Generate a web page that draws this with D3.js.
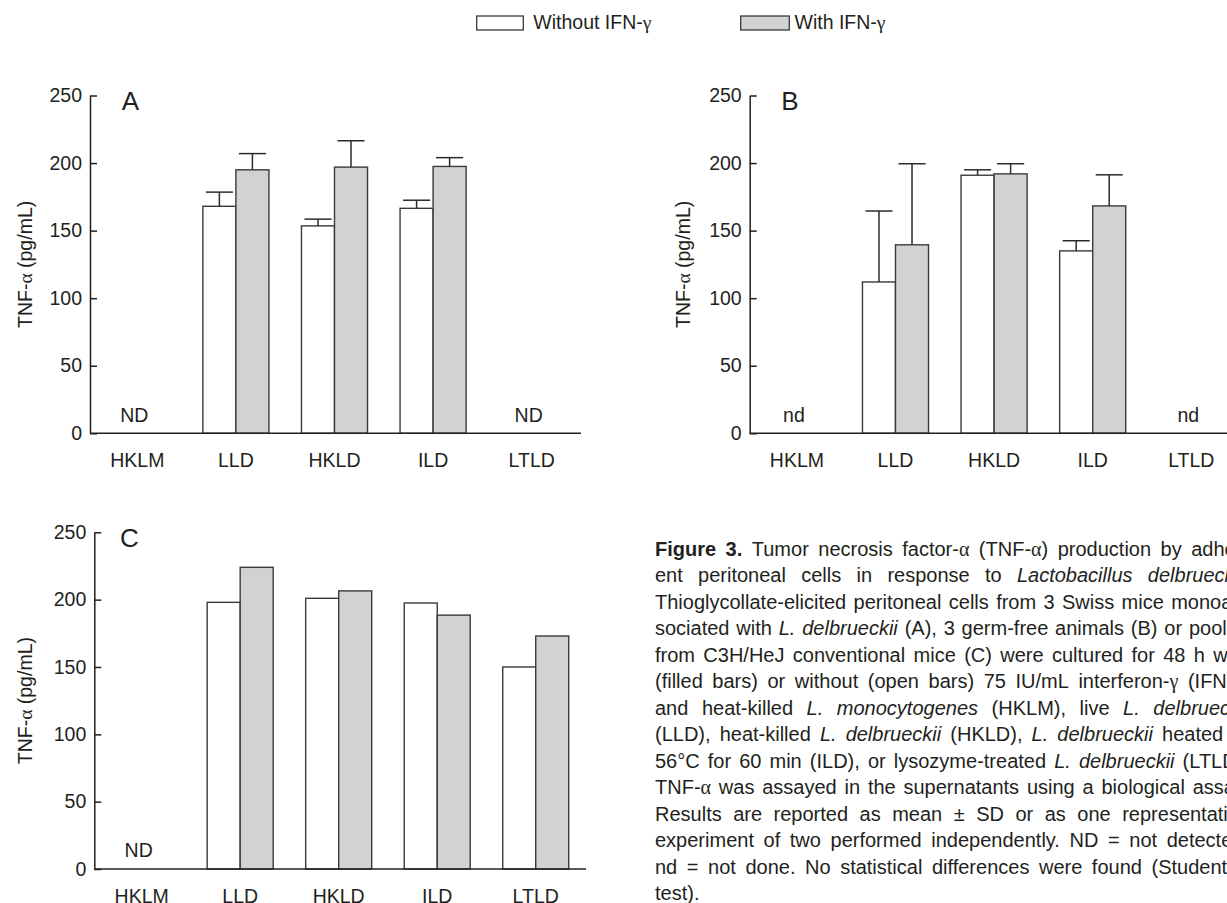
<!DOCTYPE html>
<html><head><meta charset="utf-8">
<script src="https://cdn.jsdelivr.net/npm/d3@7"></script>
<style>
html,body{margin:0;padding:0;background:#fff;overflow:hidden;width:1227px;height:903px;position:relative;}
svg{position:absolute;left:0;top:0;}
text{font-family:"Liberation Sans",Arial,sans-serif;font-size:19.5px;fill:#231f20;}
.letter{font-size:26px;}
.serif{font-family:"Liberation Serif","Times New Roman",serif;}
#caption{position:absolute;left:655px;top:535.7px;width:594px;font:20px/26.5px "Liberation Sans",Arial,sans-serif;color:#231f20;}
#caption .ln{display:flex;justify-content:space-between;height:26.5px;white-space:nowrap;}
#caption .ln.last{justify-content:flex-start;}
#caption .ln span{flex-shrink:0;white-space:nowrap;}
#caption var{font-style:normal;font-family:"Liberation Serif","Times New Roman",serif;}
</style>
</head><body>
<div id="caption"></div>
<script>
// ---------------- data ----------------
const categories = ["HKLM", "LLD", "HKLD", "ILD", "LTLD"];
const seriesKeys = ["without", "with"];
const legendLabels = ["Without IFN-", "With IFN-"];
const yTicks = [0, 50, 100, 150, 200, 250];
const yTitle = "TNF-";

const aWithout   = [null, 168, 153.5, 166.5, null];
const aWithoutSD = [null, 10.5, 5, 6, null];
const aWith      = [null, 195, 197, 197.5, null];
const aWithSD    = [null, 12, 19.5, 6.5, null];
const aNotes     = ["ND", null, null, null, "ND"];

const bWithout   = [null, 112, 191, 135, null];
const bWithoutSD = [null, 52.5, 4, 7.5, null];
const bWith      = [null, 139.5, 192, 168.3, null];
const bWithSD    = [null, 60, 7.5, 23, null];
const bNotes     = ["nd", null, null, null, "nd"];

const cWithout   = [null, 198, 201, 197.5, 150];
const cWith      = [null, 224, 206.5, 188.5, 173];
const cNotes     = ["ND", null, null, null, null];

const captionLines = [
  "<b>Figure</b> <b>3.</b> Tumor necrosis factor-<var>α</var> (TNF-<var>α</var>) production by adher-",
  "ent peritoneal cells in response to <i>Lactobacillus</i> <i>delbrueckii.</i>",
  "Thioglycollate-elicited peritoneal cells from 3 Swiss mice monoas-",
  "sociated with <i>L.</i> <i>delbrueckii</i> (A), 3 germ-free animals (B) or pooled",
  "from C3H/HeJ conventional mice (C) were cultured for 48 h with",
  "(filled bars) or without (open bars) 75 IU/mL interferon-<var>γ</var> (IFN-<var>γ</var>)",
  "and heat-killed <i>L.</i> <i>monocytogenes</i> (HKLM), live <i>L.</i> <i>delbrueckii</i>",
  "(LLD), heat-killed <i>L.</i> <i>delbrueckii</i> (HKLD), <i>L.</i> <i>delbrueckii</i> heated at",
  "56°C for 60 min (ILD), or lysozyme-treated <i>L.</i> <i>delbrueckii</i> (LTLD).",
  "TNF-<var>α</var> was assayed in the supernatants using a biological assay.",
  "Results are reported as mean ± SD or as one representative",
  "experiment of two performed independently. ND = not detected;",
  "nd = not done. No statistical differences were found (Student <i>t</i>-",
  "test)."
];

// ---------------- layout ----------------
const W = 1227, H = 903;
const INK = "#231f20", BARSTROKE = "#3a3a3a", GRAY = "#d1d2d4";
const svg = d3.select("body").append("svg").attr("width", W).attr("height", H);

const panels = [
  {letter: "A", vals: [aWithout, aWith], sds: [aWithoutSD, aWithSD], notes: aNotes,
   axisX: 90, r0: 88, r1: 581, xEnd: 581, yTop: 95.5, yBot: 433.3, letterX: 130.5, letterY: 110, titleX: 25},
  {letter: "B", vals: [bWithout, bWith], sds: [bWithoutSD, bWithSD], notes: bNotes,
   axisX: 749.7, r0: 747.6, r1: 1240.6, xEnd: 1240, yTop: 95.5, yBot: 433.3, letterX: 790, letterY: 110, titleX: 683},
  {letter: "C", vals: [cWithout, cWith], sds: null, notes: cNotes,
   axisX: 94.3, r0: 92.4, r1: 585, xEnd: 586, yTop: 532.3, yBot: 869, letterX: 129.5, letterY: 546.7, titleX: 25}
];

panels.forEach(p => {
  const g = svg.append("g");
  const x = d3.scaleBand().domain(categories).range([p.r0, p.r1]).paddingInner(0.33).paddingOuter(0.165);
  const xs = d3.scaleBand().domain(seriesKeys).range([0, x.bandwidth()]);
  const y = d3.scaleLinear().domain([0, 250]).range([p.yBot, p.yTop]);

  // bars
  seriesKeys.forEach((k, si) => {
    const vals = p.vals[si];
    g.append("g").selectAll("rect")
      .data(categories.map((c, i) => ({c, v: vals[i]})).filter(d => d.v != null))
      .join("rect")
      .attr("x", d => x(d.c) + xs(k))
      .attr("y", d => y(d.v))
      .attr("width", xs.bandwidth())
      .attr("height", d => y(0) - y(d.v))
      .attr("fill", si === 0 ? "#fff" : GRAY)
      .attr("stroke", BARSTROKE).attr("stroke-width", 1.4);
  });

  // error bars
  if (p.sds) {
    seriesKeys.forEach((k, si) => {
      const vals = p.vals[si], sds = p.sds[si];
      const data = categories.map((c, i) => ({c, v: vals[i], sd: sds[i]})).filter(d => d.v != null && d.sd != null);
      const cw = xs.bandwidth() * 0.82;
      const eg = g.append("g").attr("stroke", "#2b2b2b").attr("stroke-width", 1.5);
      eg.selectAll("line.v").data(data).join("line").attr("class", "v")
        .attr("x1", d => x(d.c) + xs(k) + xs.bandwidth() / 2)
        .attr("x2", d => x(d.c) + xs(k) + xs.bandwidth() / 2)
        .attr("y1", d => y(d.v)).attr("y2", d => y(d.v + d.sd));
      eg.selectAll("line.h").data(data).join("line").attr("class", "h")
        .attr("x1", d => x(d.c) + xs(k) + xs.bandwidth() / 2 - cw / 2)
        .attr("x2", d => x(d.c) + xs(k) + xs.bandwidth() / 2 + cw / 2)
        .attr("y1", d => y(d.v + d.sd)).attr("y2", d => y(d.v + d.sd));
    });
  }

  // notes (ND / nd)
  g.append("g").selectAll("text")
    .data(categories.map((c, i) => ({c, t: p.notes[i]})).filter(d => d.t))
    .join("text")
    .attr("x", d => x(d.c) + x.bandwidth() / 2 - 3)
    .attr("y", y(0) - 11.6)
    .attr("text-anchor", "middle")
    .text(d => d.t);

  // y axis
  const ya = g.append("g").attr("transform", `translate(${p.axisX},0)`)
    .call(d3.axisLeft(y).tickValues(yTicks).tickSizeInner(-7).tickSizeOuter(0).tickPadding(8));
  ya.attr("font-size", null).attr("font-family", null);
  ya.selectAll("path,line").attr("stroke", INK).attr("stroke-width", 1.5);
  ya.selectAll("text").attr("fill", INK);

  // x axis
  const xa = g.append("g").attr("transform", `translate(0,${p.yBot})`)
    .call(d3.axisBottom(x).tickSize(0).tickPadding(20));
  xa.attr("font-size", null).attr("font-family", null);
  xa.select(".domain").attr("d", `M${p.axisX},0H${p.xEnd}`).attr("stroke", INK).attr("stroke-width", 1.5);
  xa.selectAll("text").attr("fill", INK);

  // panel letter
  g.append("text").attr("class", "letter").attr("x", p.letterX).attr("y", p.letterY)
    .attr("text-anchor", "middle").text(p.letter);

  // y title
  const tg = g.append("g").attr("transform", `translate(${p.titleX},${(p.yTop + p.yBot) / 2}) rotate(-90)`);
  const tt = tg.append("text").attr("text-anchor", "middle").attr("dy", "0.35em");
  tt.append("tspan").text(yTitle);
  tt.append("tspan").attr("class", "serif").text("α");
  tt.append("tspan").text(" (pg/mL)");
});

// legend
const legend = [
  {label: legendLabels[0], fill: "#fff", bx: 476.7, bw: 46.6, tx: 533.3},
  {label: legendLabels[1], fill: GRAY, bx: 740.7, bw: 48.6, tx: 794.5}
];
legend.forEach(l => {
  svg.append("rect").attr("x", l.bx).attr("y", 16).attr("width", l.bw).attr("height", 14)
    .attr("fill", l.fill).attr("stroke", BARSTROKE).attr("stroke-width", 1.3);
  const t = svg.append("text").attr("x", l.tx).attr("y", 29);
  t.append("tspan").text(l.label);
  t.append("tspan").attr("class", "serif").text("γ");
});

// caption
const cap = d3.select("#caption");
captionLines.forEach((line, i) => {
  const last = i === captionLines.length - 1;
  const ln = cap.append("div").attr("class", "ln" + (last ? " last" : ""));
  const words = line.split(" ");
  words.forEach((w, j) => {
    ln.append("span").html(w + (last && j < words.length - 1 ? "&nbsp;" : ""));
  });
});
</script>
</body></html>
